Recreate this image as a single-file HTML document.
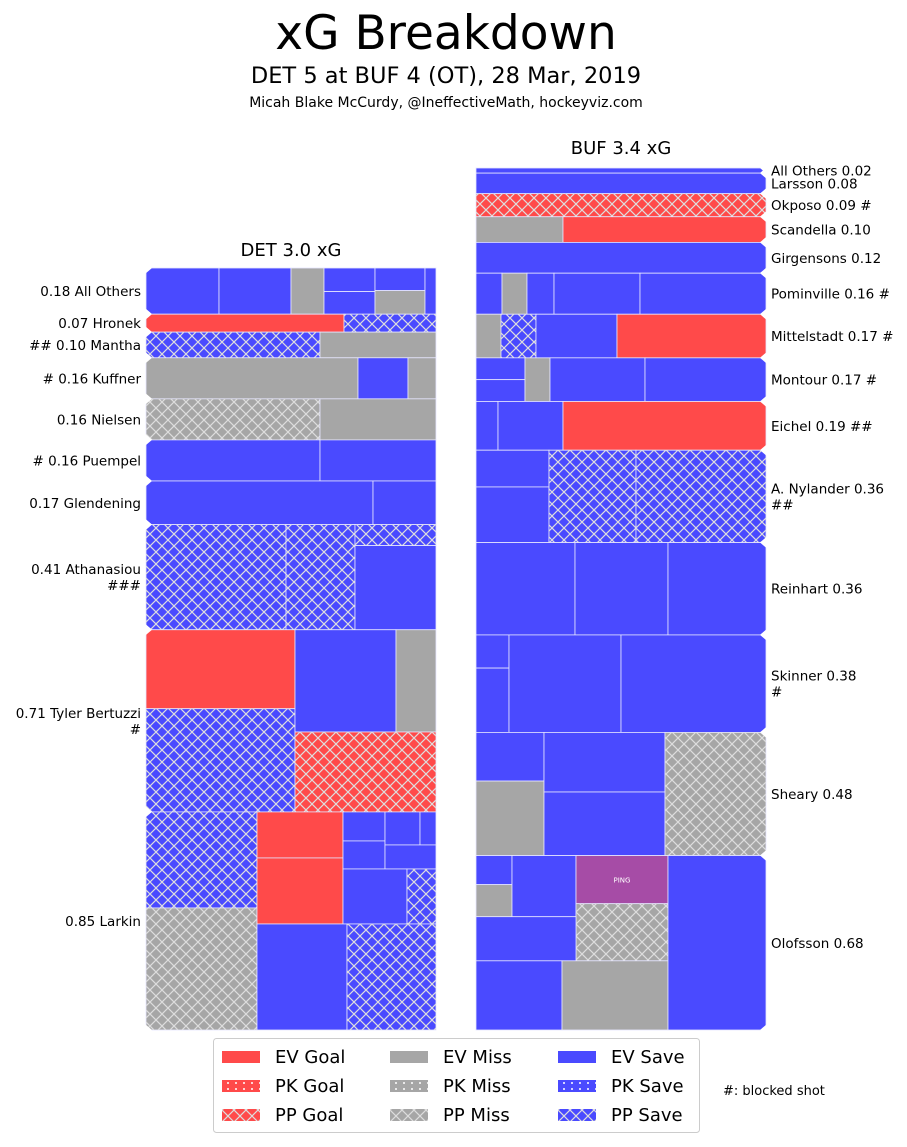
<!DOCTYPE html>
<html><head><meta charset="utf-8"><style>
body{margin:0;background:#fff;}
svg text{font-family:"DejaVu Sans","Liberation Sans",sans-serif;}
</style></head><body>
<svg id="c" width="907" height="1142" xmlns="http://www.w3.org/2000/svg">
<defs>
<pattern id="hx" width="12" height="12" patternUnits="userSpaceOnUse">
<path d="M0,0L12,12M12,0L0,12" stroke="#ddd" stroke-width="1.2" fill="none"/>
</pattern>
<pattern id="dots" width="8" height="6" patternUnits="userSpaceOnUse">
<circle cx="4" cy="3" r="1" fill="#fff"/>
</pattern>
</defs>
<text x="446" y="49" font-size="47" text-anchor="middle">xG Breakdown</text>
<text x="446" y="83" font-size="22.5" text-anchor="middle">DET 5 at BUF 4 (OT), 28 Mar, 2019</text>
<text x="446" y="107" font-size="14" text-anchor="middle">Micah Blake McCurdy, @IneffectiveMath, hockeyviz.com</text>
<text x="291" y="256" font-size="18" text-anchor="middle">DET 3.0 xG</text>
<text x="621" y="154" font-size="18" text-anchor="middle">BUF 3.4 xG</text>
<g id="plot"></g>
<g>
<rect x="213.5" y="1038.5" width="486" height="94" rx="3" fill="#fff" stroke="#ccc"/>
<g id="leg"></g>
</g>
<text x="723" y="1095" font-size="13">#: blocked shot</text>
</svg>
<script>
const detNames=["0.18 All Others","0.07 Hronek","## 0.10 Mantha","# 0.16 Kuffner","0.16 Nielsen","# 0.16 Puempel","0.17 Glendening","0.41 Athanasiou|###","0.71 Tyler Bertuzzi|#","0.85 Larkin"];
const detXG=[0.18,0.07,0.10,0.16,0.16,0.16,0.17,0.41,0.71,0.85];
const bufNames=["All Others 0.02","Larsson 0.08","Okposo 0.09 #","Scandella 0.10","Girgensons 0.12","Pominville 0.16 #","Mittelstadt 0.17 #","Montour 0.17 #","Eichel 0.19 ##","A. Nylander 0.36|##","Reinhart 0.36","Skinner 0.38|#","Sheary 0.48","Olofsson 0.68"];
const bufXG=[0.02,0.08,0.09,0.10,0.12,0.16,0.17,0.17,0.19,0.36,0.36,0.38,0.48,0.68];
const detBands=[[268,313],[313,334],[334,359],[359,400],[400,441],[441,483],[483,527],[527,632],[632,812],[812,1030]];
const detCells=[
[["S",0,73,268,313],["S",73,145,268,313],["M",145,178,268,313],["S",178,229,268,291],["S",178,229,291,313],["S",229,279,268,290],["M",229,279,290,313],["S",279,290,268,313]],
[["G",0,198,313,334],["PS",198,290,313,334]],
[["PS",0,174,334,359],["M",174,290,334,359]],
[["M",0,212,359,400],["S",212,262,359,400],["M",262,290,359,400]],
[["PM",0,174,400,441],["M",174,290,400,441]],
[["S",0,174,441,483],["S",174,290,441,483]],
[["S",0,227,483,527],["S",227,290,483,527]],
[["PS",0,140,527,632],["PS",140,209,527,632],["PS",209,290,527,548],["S",209,290,548,632]],
[["G",0,149,632,710],["PS",0,149,710,812],["S",149,250,632,733],["M",250,290,632,733],["PG",149,290,733,812]],
[["PS",0,111,812,908],["PM",0,111,908,1030],["G",111,197,812,858],["G",111,197,858,924],["S",197,239,812,841],["S",197,239,841,869],["S",239,274,812,845],["S",274,290,812,845],["S",239,290,845,869],["S",197,261,869,924],["PS",261,290,869,924],["S",111,201,924,1030],["PS",201,290,924,1030]]
];
const bufBands=[[168,173],[173,193],[193,216],[216,241],[241,271],[271,313],[313,356],[356,400],[400,449],[449,542],[542,635],[635,732],[732,856],[856,1030]];
const bufCells=[
[["S",0,290,168,173]],
[["S",0,290,173,193]],
[["PG",0,290,193,216]],
[["M",0,87,216,241],["G",87,290,216,241]],
[["S",0,290,241,271]],
[["S",0,26,271,313],["M",26,51,271,313],["S",51,78,271,313],["S",78,164,271,313],["S",164,290,271,313]],
[["M",0,25,313,356],["PS",25,60,313,356],["S",60,141,313,356],["G",141,290,313,356]],
[["S",0,49,356,378],["S",0,49,378,400],["M",49,74,356,400],["S",74,169,356,400],["S",169,290,356,400]],
[["S",0,22,400,449],["S",22,87,400,449],["G",87,290,400,449]],
[["S",0,73,449,486],["S",0,73,486,542],["PS",73,160,449,542],["PS",160,290,449,542]],
[["S",0,99,542,635],["S",99,192,542,635],["S",192,290,542,635]],
[["S",0,33,635,668],["S",0,33,668,732],["S",33,145,635,732],["S",145,290,635,732]],
[["S",0,68,732,781],["M",0,68,781,856],["S",68,189,732,792],["S",68,189,792,856],["PM",189,290,732,856]],
[["S",0,36,856,885],["M",0,36,885,917],["S",36,100,856,917],["P",100,192,856,904],["PM",100,192,904,961],["S",0,100,917,961],["S",0,86,961,1030],["M",86,192,961,1030],["S",192,290,856,1030]]
];
const COL={G:"#ff4a4a",M:"#a6a6a6",S:"#4a4aff",P:"#a64ca6"};
const NS="http://www.w3.org/2000/svg";
const plot=document.getElementById("plot");
const TOP={det:268,buf:168}, BOTTOM=1030;
function mk(t,a,p){const e=document.createElementNS(NS,t);for(const k in a)e.setAttribute(k,a[k]);(p||plot).appendChild(e);return e;}
function yScale(side,xgList){const sum=xgList.reduce((a,b)=>a+b,0);const k=(BOTTOM-TOP[side])/sum;let acc=TOP[side];const out=[];for(const v of xgList){out.push([acc,acc+v*k]);acc+=v*k;}return out;}
function drawSide(x0,names,xg,bands,cells,side){
  const ys=yScale(side,xg);
  ys.forEach((b,i)=>{
    const [rt,rb]=bands[i];const h=b[1]-b[0];
    cells[i].forEach(c=>{
      const t=c[0],base=COL[t[t.length-1]];
      const x=x0+c[1], w=(c[2]-c[1]);
      const y=b[0]+(c[3]-rt)/(rb-rt)*h, hh=(c[4]-c[3])/(rb-rt)*h;
      const r=mk("rect",{x:x,y:y,width:w,height:hh,fill:base,stroke:"#e6e6ff","stroke-width":0.8});
      
      
      if(t.length>1 && t[0]==="P"){mk("rect",{x:x,y:y,width:w,height:hh,fill:"url(#hx)"});}
      if(t==="P"){const tx=mk("text",{x:x+w/2,y:y+hh/2+3,"font-size":7,fill:"#fff","text-anchor":"middle"});tx.textContent="PING";}
    });
    const ex=side==="det"?x0:x0+290, d=side==="det"?1:-1;
    [b[0],b[1]].forEach(yb=>{mk("polygon",{points:`${ex-d},${yb-6} ${ex+6*d},${yb} ${ex-d},${yb+6}`,fill:"#fff"});});
    const lines=names[i].split("|");const cy=(b[0]+b[1])/2;
    lines.forEach((ln,k)=>{
      const tx=mk("text",{x:side==="det"?141:771,y:cy+5+(k-(lines.length-1)/2)*16,"font-size":13.5,"text-anchor":side==="det"?"end":"start"});
      tx.textContent=ln;
      
      
    });
  });
}
drawSide(146,detNames,detXG,detBands,detCells,"det");
drawSide(476,bufNames,bufXG,bufBands,bufCells,"buf");
const legLabels=[["EV Goal","PK Goal","PP Goal"],["EV Miss","PK Miss","PP Miss"],["EV Save","PK Save","PP Save"]];
const legCol=["#ff4a4a","#a6a6a6","#4a4aff"];
const leg=document.getElementById("leg");
legLabels.forEach((col,ci)=>{col.forEach((lab,ri)=>{
  const sx=222+ci*168, sy=1051+ri*29;
  const r=mk("rect",{x:sx,y:sy,width:38,height:12,fill:legCol[ci]},leg);
  
  
  if(ri===1)mk("rect",{x:sx,y:sy,width:38,height:12,fill:"url(#dots)"},leg);
  if(ri===2)mk("rect",{x:sx,y:sy,width:38,height:12,fill:"url(#hx)"},leg);
  const t=mk("text",{x:sx+53,y:sy+12,"font-size":18},leg);t.textContent=lab;
  
  
});});
</script>
</body></html>
